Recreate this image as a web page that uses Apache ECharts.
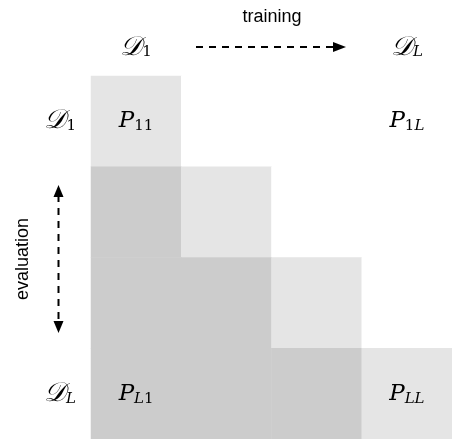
<!DOCTYPE html>
<html><head><meta charset="utf-8">
<script src="https://cdn.jsdelivr.net/npm/echarts@6/dist/echarts.min.js"></script>
<style>html,body{margin:0;padding:0;background:#fff}#c{width:452px;height:439px}</style>
</head><body><div id="c"></div>
<script>
// training datasets (columns) and evaluation datasets (rows)
const colLabels = ['{d|𝒟}{s|1}', '', '', '{d|𝒟}{si|L}'];
const rowLabels = ['{d|𝒟}{s|1}', '', '', '{d|𝒟}{si|L}'];
// 0 = none, 1 = diagonal (light), 2 = evaluated after training (dark)
const tone = [
  [1, 0, 0, 0],
  [2, 1, 0, 0],
  [2, 2, 1, 0],
  [2, 2, 2, 1]
];
const cellText = [
  ['{p|P}{s|11}', '', '', '{p|P}{s|1}{si|L}'],
  ['', '', '', ''],
  ['', '', '', ''],
  ['{p|P}{si|L}{s|1}', '', '', '{p|P}{si|LL}']
];
const toneColors = ['#ffffff', '#e5e5e5', '#cccccc'];

const data = [];
for (let r = 0; r < 4; r++) for (let c = 0; c < 4; c++) data.push([c, r, tone[r][c], cellText[r][c]]);

const serif = "'DejaVu Serif'";
const richMath = {
  d: {fontFamily: serif, fontStyle: 'italic', fontSize: 27, color: '#000'},
  p: {fontFamily: serif, fontStyle: 'italic', fontSize: 23, color: '#000'},
  s: {fontFamily: serif, fontSize: 15, color: '#000', padding: [10, 0, 0, 0]},
  si: {fontFamily: serif, fontStyle: 'italic', fontSize: 15, color: '#000', padding: [10, 0, 0, 0]}
};

const G = {left: 91, top: 76, size: 364};
const chart = echarts.init(document.getElementById('c'), null, {renderer: 'canvas'});
const dash = [7, 6];
chart.setOption({
  animation: false,
  grid: {left: G.left, top: G.top, width: G.size, height: G.size},
  xAxis: {type: 'category', position: 'top', data: colLabels, axisLine: {show: false}, axisTick: {show: false}, splitLine: {show: false},
    axisLabel: {interval: 0, margin: 15, formatter: v => v, rich: richMath}},
  yAxis: {type: 'category', inverse: true, data: rowLabels, axisLine: {show: false}, axisTick: {show: false}, splitLine: {show: false},
    axisLabel: {interval: 0, margin: 15, formatter: v => v, rich: richMath}},
  visualMap: {show: false, type: 'piecewise', dimension: 2,
    pieces: toneColors.map((c, i) => ({value: i, color: c}))},
  series: [{type: 'heatmap', data: data,
    label: {show: true, formatter: p => p.data[3], rich: richMath},
    itemStyle: {borderWidth: 0}, emphasis: {disabled: true}}],
  graphic: [
    {type: 'text', x: 272, y: 17, style: {text: 'training', align: 'center', verticalAlign: 'middle', font: "18px 'Liberation Sans'", fill: '#000'}},
    {type: 'line', shape: {x1: 196, y1: 47, x2: 336, y2: 47}, style: {stroke: '#000', lineWidth: 2, lineDash: dash}},
    {type: 'polygon', shape: {points: [[333, 42], [346, 47], [333, 52]]}, style: {fill: '#000'}},
    {type: 'line', shape: {x1: 58.5, y1: 195, x2: 58.5, y2: 323}, style: {stroke: '#000', lineWidth: 2, lineDash: dash}},
    {type: 'polygon', shape: {points: [[58.5, 185], [53.5, 197], [63.5, 197]]}, style: {fill: '#000'}},
    {type: 'polygon', shape: {points: [[58.5, 333], [53.5, 321], [63.5, 321]]}, style: {fill: '#000'}},
    {type: 'text', x: 23, y: 259, rotation: Math.PI / 2, style: {text: 'evaluation', align: 'center', verticalAlign: 'middle', font: "18px 'Liberation Sans'", fill: '#000'}}
  ]
});
</script></body></html>
